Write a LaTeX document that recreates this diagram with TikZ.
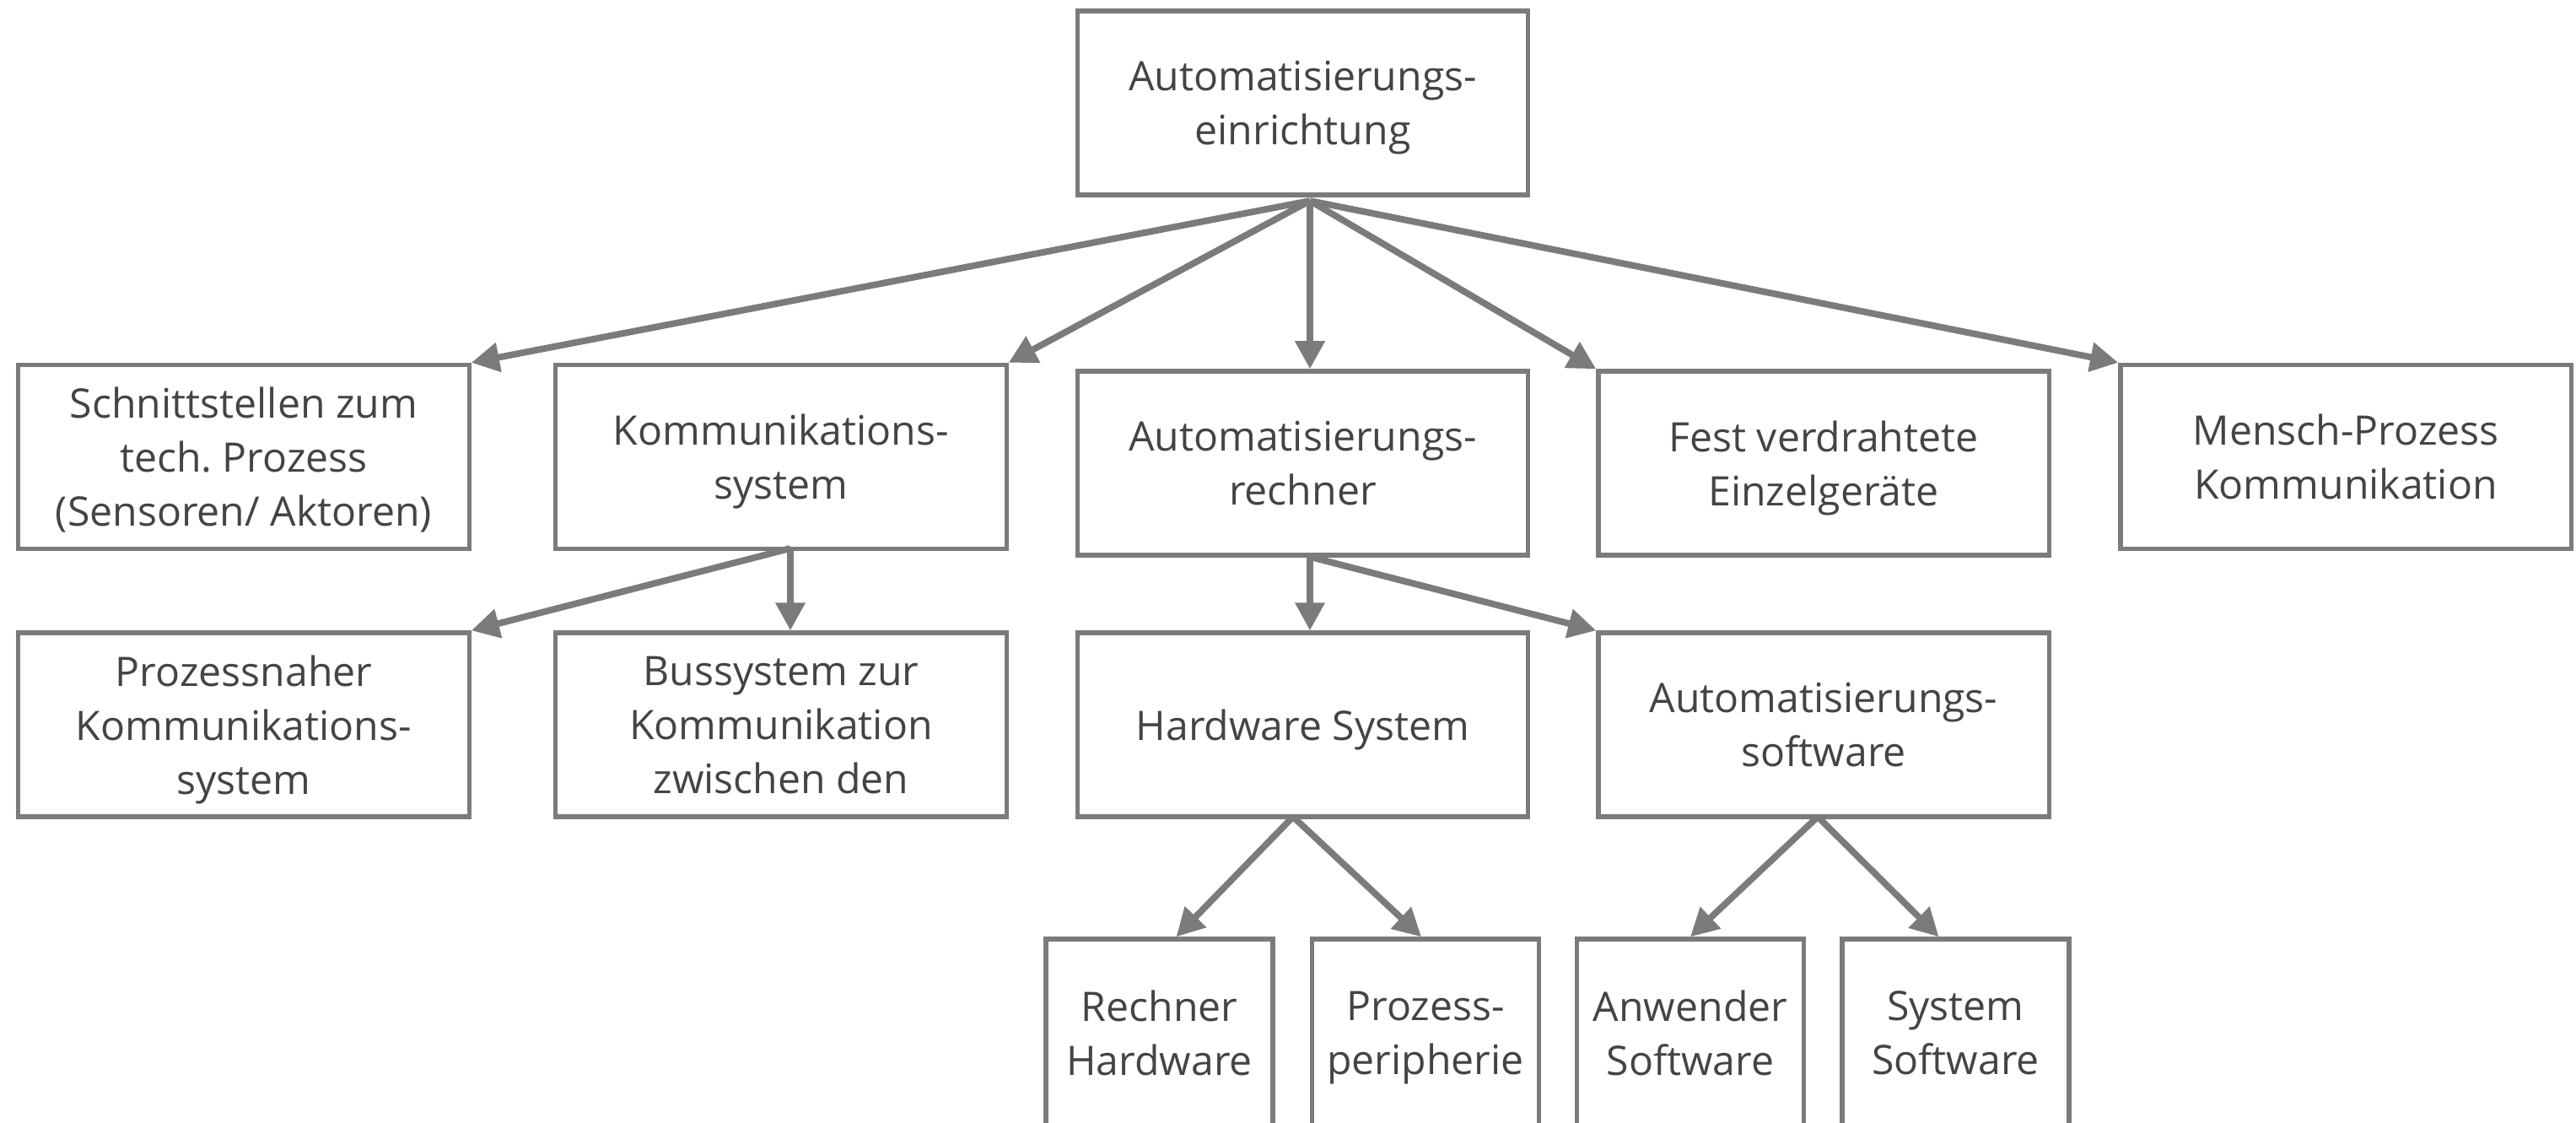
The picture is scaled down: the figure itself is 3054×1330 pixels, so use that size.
\documentclass[tikz,border=0pt]{standalone}
\usepackage{fontspec}
\setmainfont{Open Sans}
\usetikzlibrary{arrows.meta}
\definecolor{textgrau}{HTML}{444444}
\definecolor{liniengrau}{HTML}{7B7B7B}
\begin{document}
\begin{tikzpicture}[x=0.01cm, y=-0.01cm, font=\fontsize{13.7}{18.2}\selectfont, text=textgrau,
  box/.style={draw=liniengrau, line width=1.5pt, minimum width=5.34cm, minimum height=2.18cm, align=center, inner sep=0pt, text depth=0pt},
  kleinbox/.style={box, minimum width=2.69cm, minimum height=2.22cm},
  pfeil/.style={draw=liniengrau, line width=2.2pt, -{Triangle[length=9.4pt, width=9.6pt]}}]
\useasboundingbox (0,0) rectangle (3054,1330);

% Oberste Ebene
\node[box] (einrichtung) at (1544.5,122) {Automatisierungs-\\einrichtung};

% Erste Ebene
\node[box] (schnitt) at (289,541.5) {Schnittstellen zum\\tech.\ Prozess\\(Sensoren/ Aktoren)};
\node[box] (komm) at (926,541.5) {Kommunikations-\\system};
\node[box] (rechner) at (1544.5,549) {Automatisierungs-\\rechner};
\node[box] (fest) at (2162,549) {Fest verdrahtete\\Einzelgeräte};
\node[box] (mensch) at (2781,541.5) {Mensch-Prozess\\Kommunikation};

% Zweite Ebene
\node[box] (prozessnah) at (289,859) {Prozessnaher\\Kommunikations-\\system};
\node[box] (bus) at (926,859) {Bussystem zur\\Kommunikation\\zwischen den};
\node[box] (hardware) at (1544.5,859) {Hardware System};
\node[box] (software) at (2162,859) {Automatisierungs-\\software};

% Dritte Ebene
\node[kleinbox] (rhw) at (1374.5,1224) {Rechner\\Hardware};
\node[kleinbox] (peri) at (1690,1224) {Prozess-\\peripherie};
\node[kleinbox] (anw) at (2004,1224) {Anwender\\Software};
\node[kleinbox] (syssw) at (2318.5,1224) {System\\Software};

% Verzweigungen
\coordinate (gabel1) at (1553,238);
\coordinate (gabel2) at (937,650);
\coordinate (gabel3) at (1553,660);
\coordinate (gabel4) at (1533,968);
\coordinate (gabel5) at (2155,968);

% Verbindungen
\draw[pfeil] (gabel1) -- (schnitt.north east);
\draw[pfeil] (gabel1) -- (komm.north east);
\draw[pfeil] (gabel1) -- ([xshift=0.085cm]rechner.north);
\draw[pfeil] (gabel1) -- (fest.north west);
\draw[pfeil] (gabel1) -- (mensch.north west);
\draw[pfeil] (gabel2) -- (prozessnah.north east);
\draw[pfeil] (gabel2) -- ([xshift=0.11cm]bus.north);
\draw[pfeil] (gabel3) -- ([xshift=0.085cm]hardware.north);
\draw[pfeil] (gabel3) -- (software.north west);
\draw[pfeil] (gabel4) -- ([xshift=0.2cm]rhw.north);
\draw[pfeil] (gabel4) -- ([xshift=-0.05cm]peri.north);
\draw[pfeil] (gabel5) -- (anw.north);
\draw[pfeil] (gabel5) -- ([xshift=-0.2cm]syssw.north);

\end{tikzpicture}
\end{document}
